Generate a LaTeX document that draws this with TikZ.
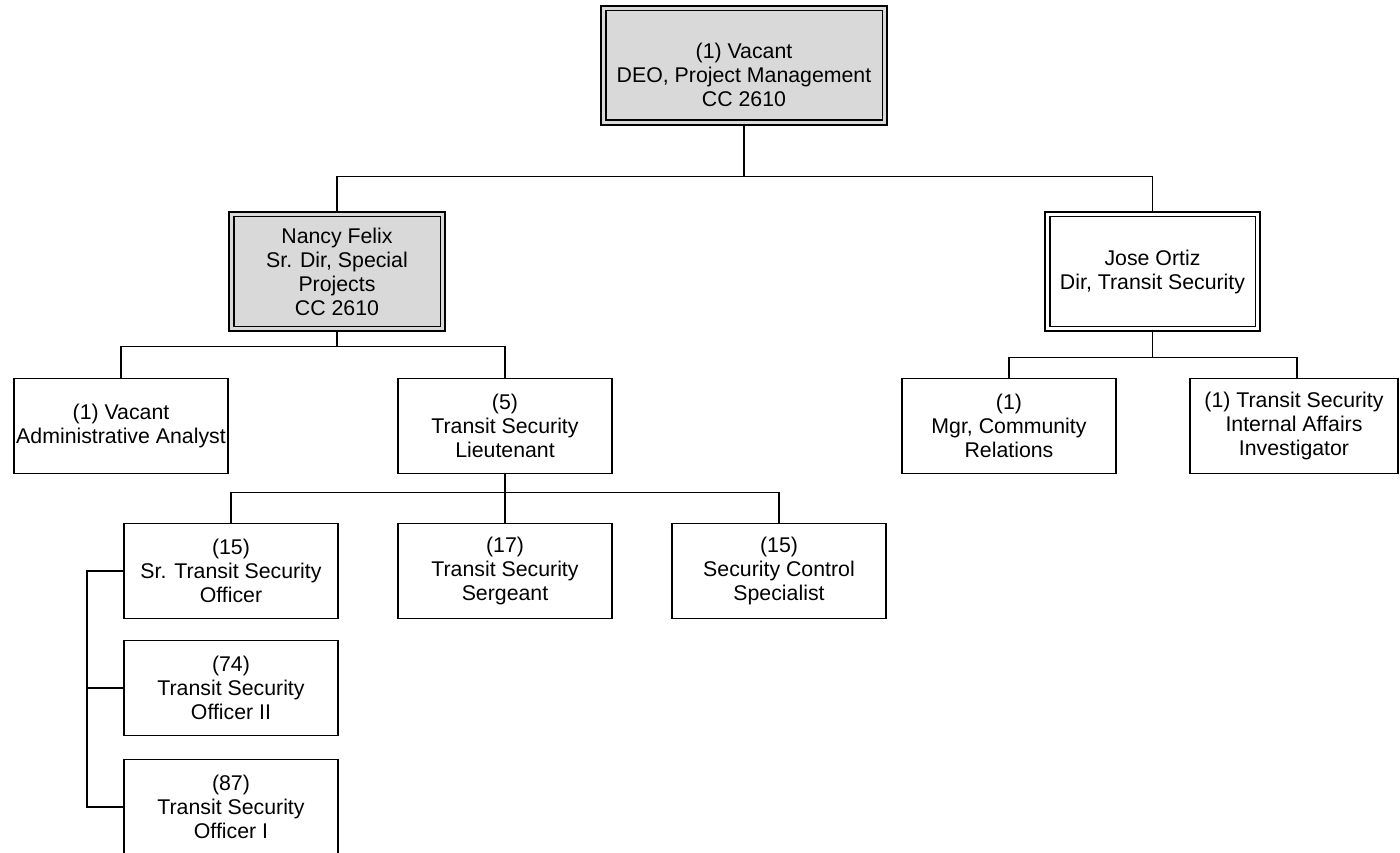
\documentclass[tikz,border=0pt]{standalone}
\usepackage{fontspec}
\setmainfont{Liberation Sans}
\begin{document}
\begin{tikzpicture}
[x=1pt, y=-1pt, font=\fontsize{21.3}{24}\selectfont]
\tikzstyle{post}=[rectangle, draw, line width=1.8pt, fill=white, align=center, inner sep=0pt, minimum width=214pt, minimum height=95pt]
\tikzstyle{head}=[post, double, line width=1.6pt, double distance=3.3pt, minimum height=114.5pt]
\tikzstyle{shaded}=[fill=gray!30, double=gray!30]
\tikzstyle{link}=[line width=1.8pt]
\useasboundingbox (0,0) rectangle (1400,853);

\node[head, shaded, minimum width=281.5pt]	(DEO)	at (744,65.5)	{\rule{0pt}{35pt}(1) Vacant\\DEO, Project Management\\CC 2610};
\node[head, shaded, minimum width=211.5pt]	(SD)	at (337,271.5)	{Nancy Felix\\Sr. Dir, Special\\Projects\\CC 2610};
\node[head, minimum width=210.5pt]	(TS)	at (1152.5,271.5)	{Jose Ortiz\\Dir, Transit Security};

\node[post]	(AA)	at (121,426)	{(1) Vacant\\Administrative Analyst};
\node[post]	(LT)	at (505,426)	{(5)\\Transit Security\\Lieutenant};
\node[post]	(CR)	at (1009,426)	{(1)\\Mgr, Community\\Relations};
\node[post, minimum width=208.5pt]	(IA)	at (1294,426)	{(1) Transit Security\\Internal Affairs\\Investigator};

\node[post]	(SO)	at (231,571)	{(15)\\Sr. Transit Security\\Officer};
\node[post]	(SG)	at (505,571)	{(17)\\Transit Security\\Sergeant};
\node[post]	(SC)	at (779,571)	{(15)\\Security Control\\Specialist};
\node[post]	(O2)	at (231,688)	{(74)\\Transit Security\\Officer II};
\node[post]	(O1)	at (231,807)	{(87)\\Transit Security\\Officer I};

\draw[link]	(DEO.south) -- ++(0,53) -| (SD.north);
\draw[link]	(DEO.south) -- ++(0,53) -| (TS.north);
\draw[link]	(SD.south) -- ++(0,17) -| (AA.north);
\draw[link]	(SD.south) -- ++(0,17) -| (LT.north);
\draw[link]	(TS.south) -- ++(0,28) -| (CR.north);
\draw[link]	(TS.south) -- ++(0,28) -| (IA.north -| 1297,0);
\draw[link]	(LT.south) -- ++(0,18) -| (SO.north);
\draw[link]	(LT.south) -- (SG.north);
\draw[link]	(LT.south) -- ++(0,18) -| (SC.north);
\draw[link]	(SO.west) -- ++(-36,0) |- (O2.west);
\draw[link]	(SO.west) -- ++(-36,0) |- (O1.west);
\end{tikzpicture}
\end{document}
